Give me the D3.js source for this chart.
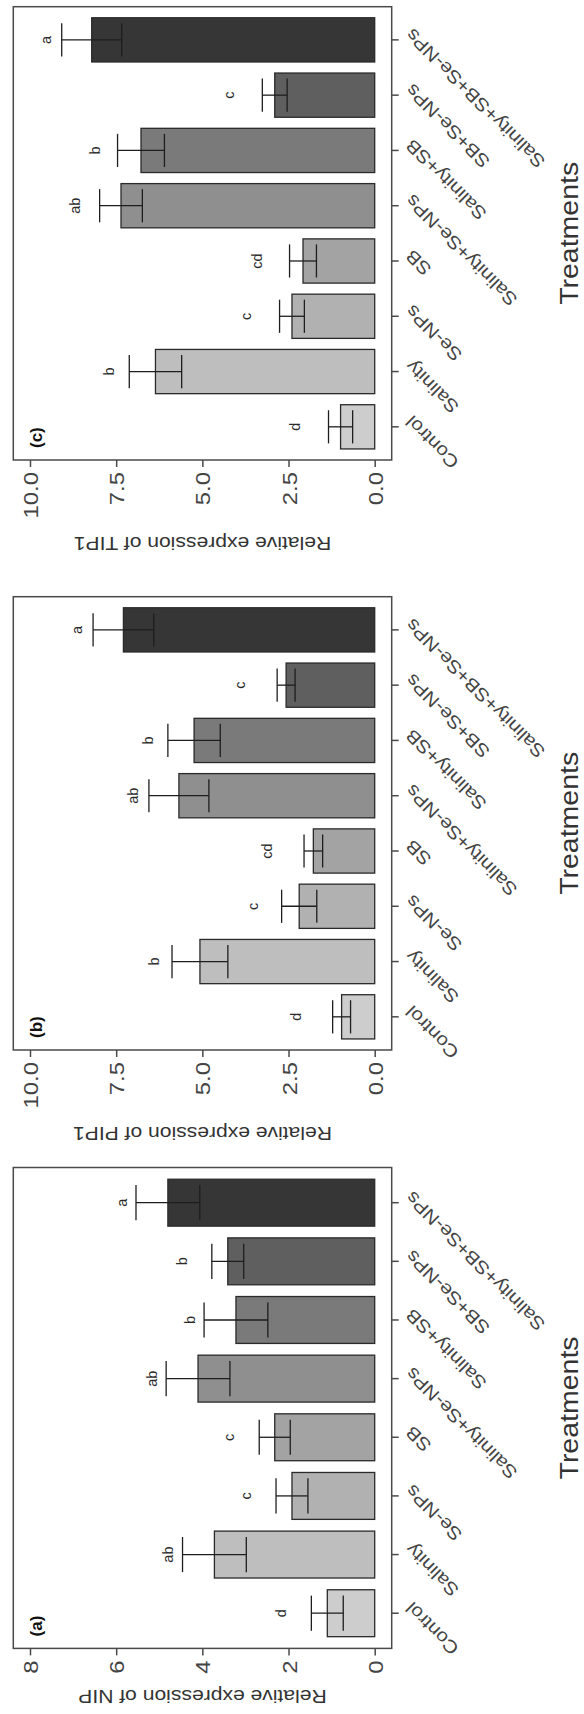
<!DOCTYPE html>
<html><head><meta charset="utf-8">
<script src="https://cdn.jsdelivr.net/npm/d3@7"></script>
<style>html,body{margin:0;padding:0;background:#fff;} svg{display:block;}</style>
</head><body>
<svg id="chart" width="584" height="1714"></svg>
<script>
// ---- data ----
const categories = ["Control","Salinity","Se-NPs","SB","Salinity+Se-NPs","Salinity+SB","SB+Se-NPs","Salinity+SB+Se-NPs"];
const nipMean = [1.10, 3.72, 1.92, 2.32, 4.10, 3.22, 3.41, 4.80];
const nipSE   = [0.37, 0.74, 0.37, 0.36, 0.74, 0.74, 0.37, 0.74];
const nipLetters = ["d","ab","c","c","ab","b","b","a"];
const pipMean = [0.96, 5.07, 2.19, 1.78, 5.68, 5.24, 2.57, 7.29];
const pipSE   = [0.26, 0.81, 0.51, 0.27, 0.87, 0.76, 0.26, 0.88];
const pipLetters = ["d","b","c","cd","ab","b","c","a"];
const tipMean = [0.99, 6.36, 2.40, 2.08, 7.36, 6.78, 2.90, 8.21];
const tipSE   = [0.35, 0.76, 0.36, 0.39, 0.62, 0.68, 0.36, 0.87];
const tipLetters = ["d","b","c","cd","ab","b","c","a"];
const nipTicks = [0, 2, 4, 6, 8];
const expTicks = [0, 2.5, 5, 7.5, 10];
const barFills = ["#cdcdcd","#bebebe","#b1b1b1","#a3a3a3","#8f8f8f","#7a7a7a","#5f5f5f","#363636"];

// ---- layout ----
const FONT = "'Liberation Sans', Arial, sans-serif";
const S = 1.14;               // horizontal glyph stretch
const zeroX = 374.7, topX = 30, plotLeft = 13.3, plotRight = 391.7;
const frameCol = "#4a4a4a";

const panels = [
  {label:"(c)", top:6.7,   bottom:460,    titleY:537,  max:10, ticks:expTicks, fmt:d3.format(".1f"),
   mean:tipMean, se:tipSE, letters:tipLetters, title:"Relative expression of TIP1"},
  {label:"(b)", top:596.7, bottom:1050,   titleY:1127, max:10, ticks:expTicks, fmt:d3.format(".1f"),
   mean:pipMean, se:pipSE, letters:pipLetters, title:"Relative expression of PIP1"},
  {label:"(a)", top:1167.5,bottom:1648.4, titleY:1690, max:8,  ticks:nipTicks, fmt:d3.format("d"),
   mean:nipMean, se:nipSE, letters:nipLetters, title:"Relative expression of NIP"}
];

const svg = d3.select("#chart");
svg.append("rect").attr("width",584).attr("height",1714).attr("fill","#fff");

panels.forEach(p => {
  const g = svg.append("g");
  const x = d3.scaleLinear().domain([0, p.max]).range([zeroX, topX]);
  const y = d3.scaleBand().domain(categories.slice().reverse())
    .range([p.top, p.bottom]).paddingInner(0.2).paddingOuter(0.2);
  const rows = categories.map((c,i)=>({c, m:p.mean[i], se:p.se[i], l:p.letters[i], fill:barFills[i]}));
  const bw = y.bandwidth();

  // bars
  g.selectAll("rect.bar").data(rows).join("rect").attr("class","bar")
    .attr("x", d=>x(d.m)).attr("y", d=>y(d.c))
    .attr("width", d=>x(0)-x(d.m)).attr("height", bw)
    .attr("fill", d=>d.fill).attr("stroke","#2a2a2a").attr("stroke-width",1.3);

  // error bars
  const eb = g.selectAll("g.eb").data(rows).join("g").attr("class","eb")
    .attr("stroke","#1e1e1e").attr("stroke-width",1.3);
  eb.append("line").attr("x1",d=>x(d.m-d.se)).attr("x2",d=>x(d.m+d.se))
    .attr("y1",d=>y(d.c)+bw/2).attr("y2",d=>y(d.c)+bw/2);
  eb.append("line").attr("x1",d=>x(d.m-d.se)).attr("x2",d=>x(d.m-d.se))
    .attr("y1",d=>y(d.c)+bw/2-bw*0.375).attr("y2",d=>y(d.c)+bw/2+bw*0.375);
  eb.append("line").attr("x1",d=>x(d.m+d.se)).attr("x2",d=>x(d.m+d.se))
    .attr("y1",d=>y(d.c)+bw/2-bw*0.375).attr("y2",d=>y(d.c)+bw/2+bw*0.375);

  // significance letters
  g.selectAll("text.let").data(rows).join("text").attr("class","let")
    .attr("transform", d=>`translate(${x(d.m)-41},${y(d.c)+bw/2}) rotate(-90)`)
    .attr("text-anchor","middle").attr("font-family",FONT).attr("font-size",14.5)
    .attr("fill","#2a2a2a").text(d=>d.l);

  // frame
  g.append("rect").attr("x",plotLeft).attr("y",p.top)
    .attr("width",plotRight-plotLeft).attr("height",p.bottom-p.top)
    .attr("fill","none").attr("stroke",frameCol).attr("stroke-width",1.5);

  // value axis
  const ax = g.append("g").attr("transform",`translate(0,${p.bottom})`)
    .call(d3.axisBottom(x).tickValues(p.ticks).tickFormat(p.fmt).tickSize(7));
  ax.select(".domain").remove();
  ax.attr("font-size",null).attr("font-family",null);
  ax.selectAll(".tick line").attr("stroke",frameCol).attr("stroke-width",1.5);
  ax.selectAll(".tick text").attr("x",0).attr("y",0).attr("dy","0.36em")
    .attr("text-anchor","end").attr("fill","#444")
    .attr("font-family",FONT).attr("font-size",21)
    .attr("transform",`translate(0,12) rotate(-90) scale(${S},1)`);

  // category axis
  const ay = g.append("g").attr("transform",`translate(${plotRight},0)`)
    .call(d3.axisRight(y).tickSize(7));
  ay.select(".domain").remove();
  ay.attr("font-size",null).attr("font-family",null);
  ay.selectAll(".tick line").attr("stroke",frameCol).attr("stroke-width",1.5);
  ay.selectAll(".tick text").attr("x",0).attr("y",0).attr("dy","0.35em")
    .attr("text-anchor","end").attr("fill","#444")
    .attr("font-family",FONT).attr("font-size",18)
    .attr("transform",`translate(17,-8) rotate(-135) scale(${S},1)`);

  // panel label
  g.append("text").attr("transform",`translate(41.5,${p.bottom-12}) rotate(-90)`)
    .attr("font-family",FONT).attr("font-weight","bold").attr("font-size",17)
    .attr("fill","#111").text(p.label);

  // value axis title (upside down)
  g.append("text").attr("transform",`translate(${(plotLeft+plotRight)/2},${p.titleY}) rotate(180) scale(${S},1)`)
    .attr("text-anchor","middle").attr("font-family",FONT).attr("font-size",18.5)
    .attr("fill","#333").text(p.title);

  // category axis title
  g.append("text").attr("transform",`translate(578,${(p.top+p.bottom)/2}) rotate(-90) scale(${S},1)`)
    .attr("text-anchor","middle").attr("font-family",FONT).attr("font-size",25)
    .attr("fill","#333").text("Treatments");
});
</script>
</body></html>
